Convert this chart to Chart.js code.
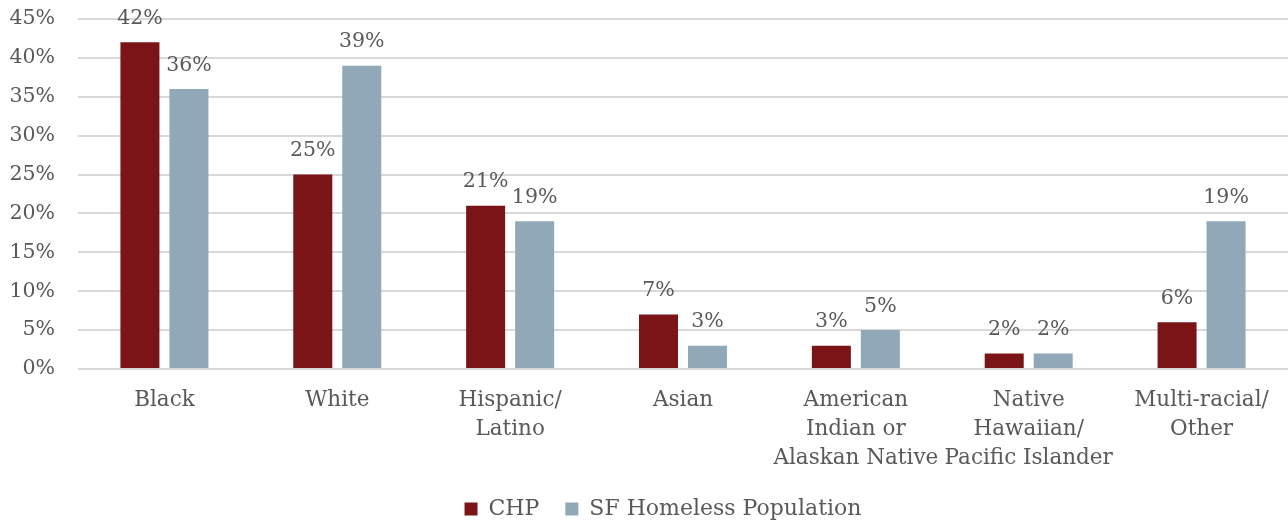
<!DOCTYPE html>
<html>
<head>
<meta charset="utf-8">
<script src="https://cdn.jsdelivr.net/npm/chart.js@4/dist/chart.umd.min.js"></script>
<style>
  html, body { margin: 0; padding: 0; background: #ffffff; }
  #wrap { position: relative; width: 1288px; height: 523px; }
</style>
</head>
<body>
<div id="wrap"><canvas id="chart"></canvas></div>
<script>
// Share of people by race/ethnicity (percent)
const categories = [
  "Black",
  "White",
  ["Hispanic/", "Latino"],
  "Asian",
  ["American", "Indian or", "Alaskan Native"],
  ["Native", "Hawaiian/", "Pacific Islander"],
  ["Multi-racial/", "Other"]
];
const chpValues = [42, 25, 21, 7, 3, 2, 6];
const sfHomelessValues = [36, 39, 19, 3, 5, 2, 19];
const seriesNames = ["CHP", "SF Homeless Population"];
const yTicks = [0, 5, 10, 15, 20, 25, 30, 35, 40, 45];

const FONT = "'DejaVu Serif', 'Liberation Serif', serif";
const TEXT = "#595959";

// Writes each bar's value above it
const valueLabels = {
  id: "valueLabels",
  afterDatasetsDraw(chart) {
    const ctx = chart.ctx;
    ctx.save();
    ctx.font = "20.5px " + FONT;
    ctx.fillStyle = TEXT;
    ctx.textAlign = "center";
    ctx.textBaseline = "middle";
    chart.data.datasets.forEach((ds, i) => {
      chart.getDatasetMeta(i).data.forEach((bar, j) => {
        ctx.fillText(ds.data[j] + "%", bar.x, bar.y - 23.5);
      });
    });
    ctx.restore();
  }
};

// Moves the legend up closer to the axis labels and a little right of centre
const legendShift = {
  id: "legendShift",
  afterLayout(chart) {
    const lg = chart.legend;
    if (lg) {
      lg.left += 38;
      lg.top -= 18;
      lg.bottom -= 18;
    }
  }
};

new Chart(document.getElementById("chart"), {
  type: "bar",
  data: {
    labels: categories,
    datasets: [
      {
        label: seriesNames[0],
        data: chpValues,
        backgroundColor: "#7b1416",
        categoryPercentage: 0.567,
        barPercentage: 0.796
      },
      {
        label: seriesNames[1],
        data: sfHomelessValues,
        backgroundColor: "#91a8b8",
        categoryPercentage: 0.567,
        barPercentage: 0.796
      }
    ]
  },
  options: {
    responsive: true,
    maintainAspectRatio: false,
    animation: false,
    layout: { padding: { top: 0, right: 0, left: 0, bottom: -25 } },
    scales: {
      x: {
        grid: { display: false, drawTicks: false },
        border: { display: false },
        ticks: {
          color: TEXT,
          font: { family: FONT, size: 21.5, lineHeight: "29px" },
          maxRotation: 0,
          autoSkip: false,
          padding: 17
        }
      },
      y: {
        min: 0,
        max: 45,
        afterBuildTicks(axis) { axis.ticks = yTicks.map(v => ({ value: v })); },
        afterFit(axis) {
          axis.width = 78;
          axis.paddingTop = 19;
        },
        grid: { color: "#d9d9d9", lineWidth: 2, drawTicks: false },
        border: { display: false },
        ticks: {
          color: TEXT,
          font: { family: FONT, size: 20.5 },
          padding: 23,
          callback: v => v + "%"
        }
      }
    },
    plugins: {
      legend: {
        position: "bottom",
        labels: {
          color: TEXT,
          font: { family: FONT, size: 22 },
          boxWidth: 13,
          boxHeight: 13,
          padding: 26
        }
      },
      tooltip: { enabled: false }
    }
  },
  plugins: [valueLabels, legendShift]
});
</script>
</body>
</html>
